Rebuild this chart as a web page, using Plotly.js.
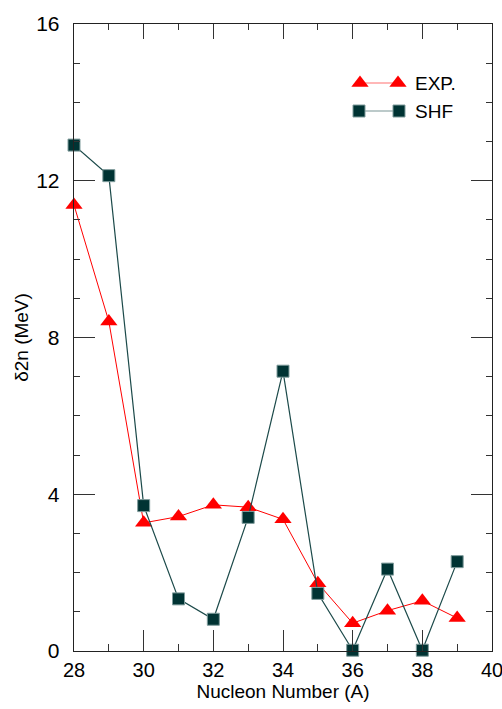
<!DOCTYPE html>
<html>
<head>
<meta charset="utf-8">
<script src="https://cdn.plot.ly/plotly-3.0.1.min.js"></script>
<style>html,body{margin:0;padding:0;background:#fff;}#chart{width:502px;height:709px;}</style>
</head>
<body>
<div id="chart"></div>
<script>
const nucleonA = [28, 29, 30, 31, 32, 33, 34, 35, 36, 37, 38, 39];
const expValues = [11.38, 8.41, 3.27, 3.43, 3.73, 3.67, 3.36, 1.73, 0.71, 1.03, 1.28, 0.84];
const shfValues = [12.91, 12.13, 3.71, 1.33, 0.81, 3.41, 7.14, 1.47, 0.02, 2.09, 0.02, 2.28];
const xTickVals = [28, 30, 32, 34, 36, 38, 40];
const yTickVals = [0, 4, 8, 12, 16];
const legendNames = ['EXP.', 'SHF'];

const red = '#ff0000';
const teal = '#003333';
const tealLine = '#1c4a4a';
const font = 'Liberation Sans, Arial, sans-serif';

// plot-area pixel frame for legend helper axis
const W = 418, H = 627;

const traces = [
  {
    x: nucleonA, y: expValues, type: 'scatter', mode: 'lines+markers', name: legendNames[0],
    line: {color: red, width: 1},
    marker: {symbol: 'triangle-up', size: 15, color: red, line: {width: 0}},
    cliponaxis: false, showlegend: false
  },
  {
    x: nucleonA, y: shfValues, type: 'scatter', mode: 'lines+markers', name: legendNames[1],
    line: {color: tealLine, width: 1.2},
    marker: {symbol: 'square', size: 12, color: teal, line: {width: 1, color: '#7f9c9c'}},
    cliponaxis: false, showlegend: false
  },
  {
    x: [286, 324], y: [568, 568], xaxis: 'x3', yaxis: 'y3', type: 'scatter', mode: 'lines+markers',
    line: {color: '#ff7070', width: 1.2},
    marker: {symbol: 'triangle-up', size: 15, color: red, line: {width: 0}},
    showlegend: false, hoverinfo: 'skip', cliponaxis: false
  },
  {
    x: [285, 325], y: [540, 540], xaxis: 'x3', yaxis: 'y3', type: 'scatter', mode: 'lines+markers',
    line: {color: '#7a9696', width: 1.2},
    marker: {symbol: 'square', size: 12, color: teal, line: {width: 1, color: '#7f9c9c'}},
    showlegend: false, hoverinfo: 'skip', cliponaxis: false
  },
  {x: [28], y: [0], xaxis: 'x2', type: 'scatter', mode: 'markers', marker: {opacity: 0}, showlegend: false, hoverinfo: 'skip'}
];

const layout = {
  width: 502, height: 709,
  margin: {l: 74, r: 10, t: 24, b: 58},
  paper_bgcolor: '#fff', plot_bgcolor: '#fff',
  font: {family: font, color: '#000', size: 19},
  showlegend: false,
  xaxis: {
    range: [28, 40], tickvals: xTickVals, ticktext: xTickVals.map(String),
    ticks: 'inside', ticklen: 21, tickwidth: 1, tickcolor: '#333',
    minor: {dtick: 1, ticks: 'inside', ticklen: 7, tickwidth: 1, tickcolor: '#333'},
    showline: true, linecolor: '#222', linewidth: 1.3, mirror: false,
    showgrid: false, zeroline: false, ticklabeloverflow: 'allow',
    tickfont: {size: 20, family: font}, ticklabelstandoff: 1,
    title: {text: 'Nucleon Number (A)', font: {size: 19, family: font}, standoff: 2}
  },
  xaxis2: {
    overlaying: 'x', side: 'top', range: [28, 40], tickvals: xTickVals,
    ticks: 'inside', ticklen: 15, tickwidth: 1, tickcolor: '#333',
    minor: {dtick: 1, ticks: 'inside', ticklen: 6, tickwidth: 1, tickcolor: '#333'},
    showline: true, linecolor: '#222', linewidth: 1.3,
    showticklabels: false, showgrid: false, zeroline: false
  },
  yaxis: {
    range: [0, 16], tickvals: yTickVals, ticktext: yTickVals.map(String),
    ticks: 'inside', ticklen: 21, tickwidth: 1, tickcolor: '#333',
    minor: {dtick: 1, ticks: 'inside', ticklen: 6, tickwidth: 1, tickcolor: '#333'},
    showline: true, linecolor: '#222', linewidth: 1.3, mirror: 'ticks',
    showgrid: false, zeroline: false,
    tickfont: {size: 21, family: font}, ticklabelstandoff: 9,
    title: {text: 'δ2n (MeV)', font: {size: 19, family: font}, standoff: 2}
  },
  xaxis3: {overlaying: 'x', range: [0, W], visible: false, fixedrange: true},
  yaxis3: {overlaying: 'y', range: [0, H], visible: false, fixedrange: true},
  annotations: [
    {xref: 'x3', yref: 'y3', x: 339, y: 568, text: legendNames[0], showarrow: false, xanchor: 'left', yanchor: 'middle', font: {size: 19, family: font}},
    {xref: 'x3', yref: 'y3', x: 339, y: 540, text: legendNames[1], showarrow: false, xanchor: 'left', yanchor: 'middle', font: {size: 19, family: font}}
  ]
};

Plotly.newPlot('chart', traces, layout, {displayModeBar: false, staticPlot: true});
</script>
</body>
</html>
